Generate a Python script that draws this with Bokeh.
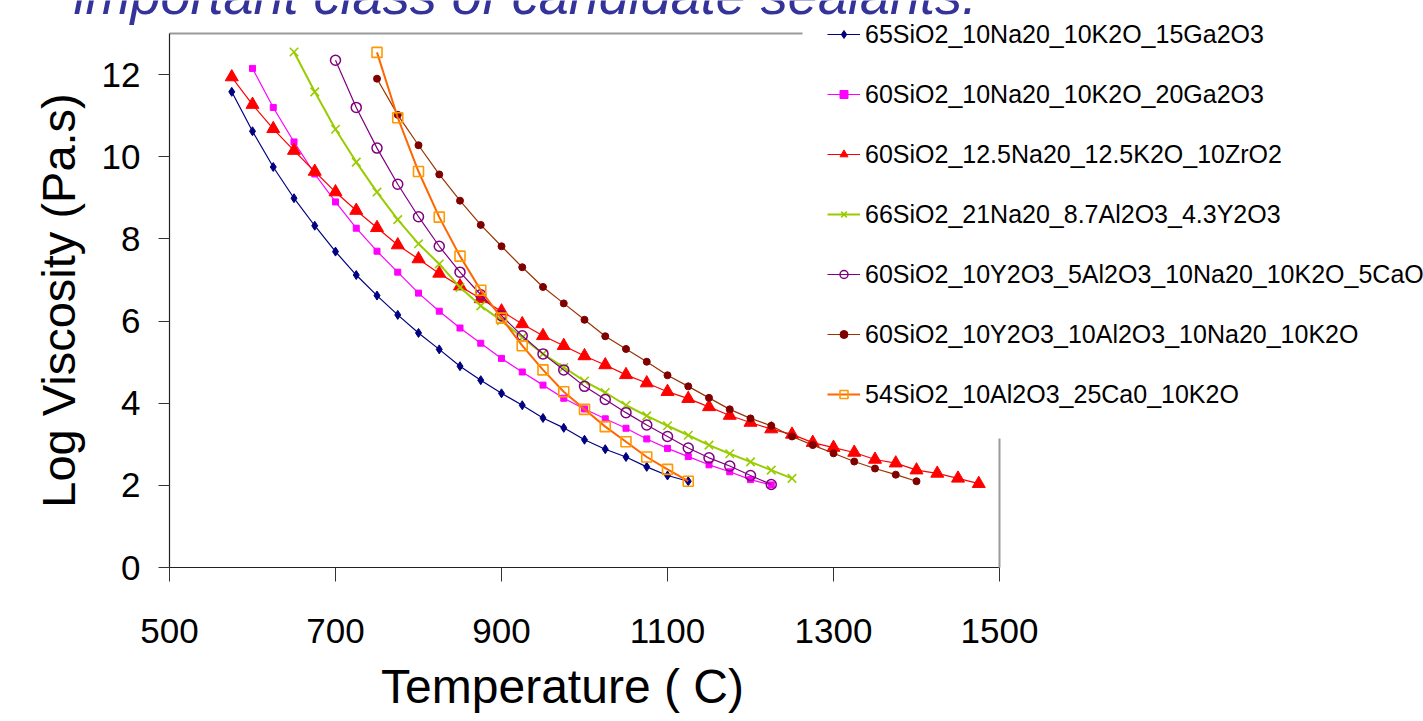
from bokeh.plotting import figure
from bokeh.models import (Range1d, FixedTicker, LinearAxis, Legend, LegendItem, Label)
from bokeh.embed import file_html
from bokeh.resources import INLINE

# ---------------- data ----------------
t_ga15 = [575, 600, 625, 650, 675, 700, 725, 750, 775, 800, 825, 850, 875, 900, 925,
          950, 975, 1000, 1025, 1050, 1075, 1100, 1125]
v_ga15 = [11.58, 10.62, 9.75, 8.99, 8.32, 7.69, 7.12, 6.62, 6.15, 5.71, 5.31, 4.90, 4.56,
          4.24, 3.95, 3.64, 3.40, 3.11, 2.88, 2.69, 2.45, 2.24, 2.10]

t_ga20 = [600, 625, 650, 675, 700, 725, 750, 775, 800, 825, 850, 875, 900, 925, 950, 975,
          1000, 1025, 1050, 1075, 1100, 1125, 1150, 1175, 1200, 1225]
v_ga20 = [12.15, 11.20, 10.36, 9.58, 8.90, 8.26, 7.70, 7.19, 6.68, 6.24, 5.83, 5.46, 5.09,
          4.76, 4.44, 4.12, 3.86, 3.62, 3.39, 3.13, 2.90, 2.70, 2.50, 2.33, 2.14, 2.01]

t_zr = [575, 600, 625, 650, 675, 700, 725, 750, 775, 800, 825, 850, 875, 900, 925, 950,
        975, 1000, 1025, 1050, 1075, 1100, 1125, 1150, 1175, 1200, 1225, 1250, 1275, 1300,
        1325, 1350, 1375, 1400, 1425, 1450, 1475]
v_zr = [11.94, 11.27, 10.68, 10.15, 9.64, 9.14, 8.69, 8.27, 7.85, 7.51, 7.16, 6.85, 6.54,
        6.24, 5.93, 5.64, 5.40, 5.15, 4.93, 4.69, 4.49, 4.28, 4.11, 3.91, 3.70, 3.53, 3.37,
        3.24, 3.04, 2.92, 2.80, 2.63, 2.54, 2.37, 2.29, 2.17, 2.04]

t_y43 = [650, 675, 700, 725, 750, 775, 800, 825, 850, 875, 900, 925, 950, 975, 1000, 1025,
         1050, 1075, 1100, 1125, 1150, 1175, 1200, 1225, 1250]
v_y43 = [12.55, 11.58, 10.67, 9.87, 9.14, 8.47, 7.88, 7.39, 6.82, 6.37, 6.01, 5.60, 5.20,
         4.87, 4.54, 4.26, 3.95, 3.69, 3.45, 3.22, 2.98, 2.77, 2.57, 2.37, 2.17]

t_cao5 = [700, 725, 750, 775, 800, 825, 850, 875, 900, 925, 950, 975, 1000, 1025, 1050,
          1075, 1100, 1125, 1150, 1175, 1200, 1225]
v_cao5 = [12.35, 11.20, 10.21, 9.33, 8.54, 7.82, 7.19, 6.64, 6.13, 5.64, 5.20, 4.81, 4.41,
          4.09, 3.77, 3.47, 3.19, 2.91, 2.67, 2.47, 2.24, 2.02]

t_al10 = [750, 775, 800, 825, 850, 875, 900, 925, 950, 975, 1000, 1025, 1050, 1075, 1100,
          1125, 1150, 1175, 1200, 1225, 1250, 1275, 1300, 1325, 1350, 1375, 1400]
v_al10 = [11.90, 11.02, 10.28, 9.57, 8.93, 8.34, 7.82, 7.31, 6.83, 6.43, 6.03, 5.63, 5.32,
          5.01, 4.68, 4.41, 4.13, 3.85, 3.63, 3.45, 3.19, 2.98, 2.78, 2.58, 2.41, 2.26, 2.10]

t_ca25 = [750, 775, 800, 825, 850, 875, 900, 925, 950, 975, 1000, 1025, 1050, 1075, 1100, 1125]
v_ca25 = [12.54, 10.95, 9.64, 8.53, 7.58, 6.75, 6.07, 5.40, 4.81, 4.28, 3.85, 3.43, 3.06,
          2.69, 2.39, 2.10]

labels = [
    "65SiO2_10Na20_10K2O_15Ga2O3",
    "60SiO2_10Na20_10K2O_20Ga2O3",
    "60SiO2_12.5Na20_12.5K2O_10ZrO2",
    "66SiO2_21Na20_8.7Al2O3_4.3Y2O3",
    "60SiO2_10Y2O3_5Al2O3_10Na20_10K2O_5CaO",
    "60SiO2_10Y2O3_10Al2O3_10Na20_10K2O",
    "54SiO2_10Al2O3_25Ca0_10K2O",
]
x_ticks = [500, 700, 900, 1100, 1300, 1500]
y_ticks = [0, 2, 4, 6, 8, 10, 12]
x_lim = (500, 1500)
y_lim = (0, 13)
x_title = "Temperature ( C)"
y_title = "Log Viscosity (Pa.s)"
title_text = "important class of candidate sealants."

# ---------------- styles ----------------
series = [
    (t_ga15, v_ga15, dict(line="#000080", marker="diamond", size=9, mline="#000080", fill="#000080", lw=1.2, mlw=1)),
    (t_ga20, v_ga20, dict(line="#FF00FF", marker="square", size=6, mline="#FF00FF", fill="#FF00FF", lw=1.2, mlw=1)),
    (t_zr, v_zr, dict(line="#FF0000", marker="triangle", size=13, mline="#FF0000", fill="#FF0000", lw=1.2, mlw=1)),
    (t_y43, v_y43, dict(line="#99CC00", marker="x", size=12, mline="#99CC00", fill=None, lw=2, mlw=1.6)),
    (t_cao5, v_cao5, dict(line="#800080", marker="circle", size=10, mline="#800080", fill=None, lw=1.2, mlw=1.5)),
    (t_al10, v_al10, dict(line="#993300", marker="circle", size=7, mline="#800000", fill="#800000", lw=1.2, mlw=1)),
    (t_ca25, v_ca25, dict(line="#FF6600", marker="square", size=10, mline="#FF9900", fill=None, lw=2, mlw=1.6)),
]

FONT = "Liberation Sans"
W, H = 1423, 721
# pixel placement of the plotting box inside the canvas
FL, FR, FT, FB = 169, 999, 33, 567
kx = (FR - FL) / (x_lim[1] - x_lim[0])
ky = (FB - FT) / (y_lim[1] - y_lim[0])
xr = Range1d(x_lim[0] - FL / kx, x_lim[1] + (W - FR) / kx)
yr = Range1d(y_lim[0] - (H - FB) / ky, y_lim[1] + FT / ky)

# legend box placement (pixels) – the frame border is hidden where the legend sits
LEG_LEFT, LEG_BOTTOM_PX = 802, 438
top_border_end = x_lim[0] + (LEG_LEFT - FL) / kx
right_border_start = (FB - LEG_BOTTOM_PX) / ky

p = figure(width=W, height=H, output_backend="svg", toolbar_location=None,
           x_range=xr, y_range=yr, min_border=0,
           min_border_left=0, min_border_right=0, min_border_top=0, min_border_bottom=0)
p.outline_line_color = None
p.xgrid.visible = False
p.ygrid.visible = False
p.background_fill_color = "white"
p.border_fill_color = "white"

xa = p.xaxis[0]
ya = p.yaxis[0]
xa.fixed_location = y_lim[0]
xa.bounds = x_lim
ya.fixed_location = x_lim[0]
ya.bounds = y_lim

for ax, ticks in ((xa, x_ticks), (ya, y_ticks)):
    ax.ticker = FixedTicker(ticks=ticks)
    ax.axis_line_color = "#222222"
    ax.axis_line_width = 1.2
    ax.major_tick_line_color = "#333333"
    ax.major_tick_in = 0
    ax.minor_tick_line_color = None
    ax.major_label_text_font = FONT
    ax.major_label_text_font_size = "35px"
    ax.major_label_text_color = "black"
    ax.axis_label_text_font = FONT
    ax.axis_label_text_font_style = "normal"
    ax.axis_label_text_color = "black"

xa.major_tick_out = 14
xa.major_label_standoff = 37

ya.major_tick_out = 11
ya.major_label_standoff = 18
ya.axis_label = y_title
ya.axis_label_text_font_size = "47px"
ya.axis_label_standoff = 14

# gray frame border on top and right (tickless axes), stopping where the legend box starts
top_ax = LinearAxis(fixed_location=y_lim[1], bounds=(x_lim[0], top_border_end),
                    ticker=FixedTicker(ticks=[]),
                    axis_line_color="#9a9a9a", axis_line_width=2,
                    major_tick_line_color=None, minor_tick_line_color=None)
right_ax = LinearAxis(fixed_location=x_lim[1], bounds=(y_lim[0], right_border_start),
                      ticker=FixedTicker(ticks=[]),
                      axis_line_color="#9a9a9a", axis_line_width=2,
                      major_tick_line_color=None, minor_tick_line_color=None)
p.add_layout(top_ax, "above")
p.add_layout(right_ax, "right")

items = []
for (xs, ys, st), lab in zip(series, labels):
    lr = p.line(xs, ys, line_color=st["line"], line_width=st["lw"])
    sr = p.scatter(xs, ys, marker=st["marker"], size=st["size"], line_color=st["mline"],
                   fill_color=st["fill"], line_width=st["mlw"])
    items.append(LegendItem(label=lab, renderers=[lr, sr]))

legend = Legend(items=items, location=(827, 312), orientation="vertical",
                label_text_font=FONT, label_text_font_size="25px", label_text_color="black",
                label_height=30, glyph_height=20, glyph_width=33, label_standoff=5,
                spacing=30, padding=0, margin=0,
                background_fill_alpha=0.0, border_line_color=None)
p.add_layout(legend, "center")

# x axis title placed as a label (it sits a little left of the axis centre)
xlab = Label(x=562, y=35, x_units="screen", y_units="screen", text=x_title,
             text_font=FONT, text_font_style="normal", text_font_size="48px",
             text_color="black", text_baseline="alphabetic", text_align="center")
p.add_layout(xlab)

title = Label(x=73, y=H - 13 + 19, x_units="screen", y_units="screen", text=title_text,
              text_font=FONT, text_font_style="italic", text_font_size="54px",
              text_color="#333399", text_baseline="alphabetic", text_align="left",
              level="overlay")
p.add_layout(title)

open("out.html", "w").write(file_html(p, INLINE))
